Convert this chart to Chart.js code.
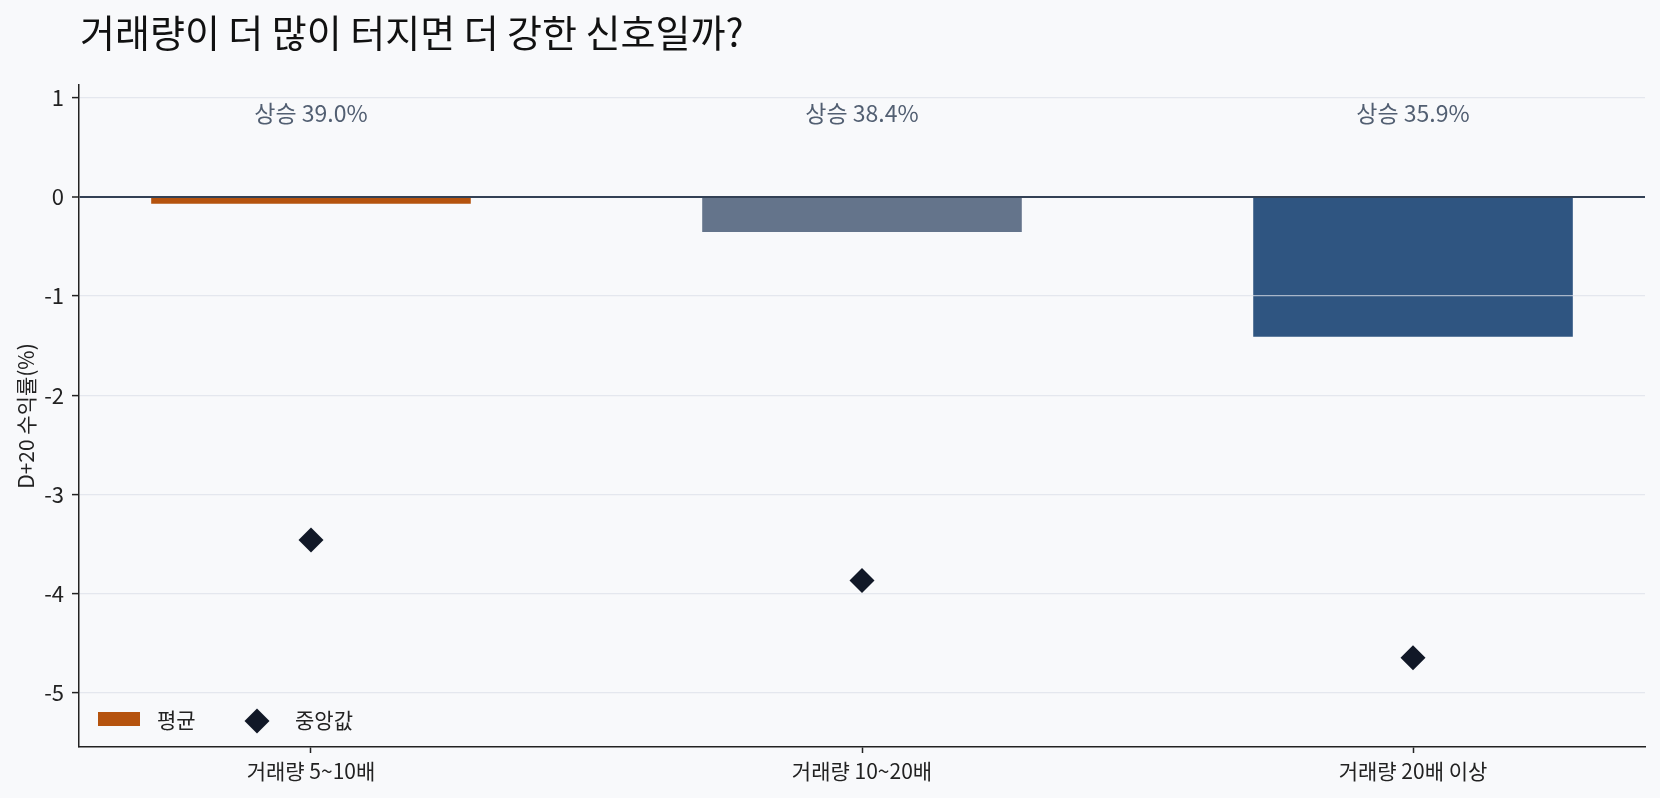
<!DOCTYPE html>
<html>
<head>
<meta charset="utf-8">
<script src="https://cdn.jsdelivr.net/npm/chart.js@4.4.1/dist/chart.umd.min.js"></script>
<style>
html,body{margin:0;padding:0;background:#f8f9fb;}
#wrap{width:1660px;height:798px;position:relative;}
</style>
</head>
<body>
<div id="wrap"><canvas id="c" width="1660" height="798"></canvas></div>
<script>
const chartTitle = '거래량이 더 많이 터지면 더 강한 신호일까?';
const categories = ['거래량 5~10배', '거래량 10~20배', '거래량 20배 이상'];
const meanValues = [-0.068, -0.353, -1.41];
const medianValues = [-3.46, -3.87, -4.65];
const upRatio = [39.0, 38.4, 35.9];
const yTicks = [1, 0, -1, -2, -3, -4, -5];
const seriesLabels = ['평균', '중앙값'];

const FONT = "'Noto Sans CJK KR', 'Noto Sans', sans-serif";
const barColors = ['#b5530e', '#64748b', '#2f5581'];
const medianColor = '#111827';

const overlay = {
  id: 'overlay',
  afterDraw(chart) {
    const ctx = chart.ctx;
    const xs = chart.scales.x, ys = chart.scales.y;
    ctx.save();
    // title
    ctx.fillStyle = '#111111';
    ctx.font = '38px ' + FONT;
    ctx.textAlign = 'left';
    ctx.textBaseline = 'alphabetic';
    ctx.fillText(chartTitle, 80, 47);
    // annotations
    ctx.fillStyle = '#525f72';
    ctx.font = '23px ' + FONT;
    ctx.textAlign = 'center';
    ctx.textBaseline = 'middle';
    upRatio.forEach((r, i) => {
      ctx.fillText('상승 ' + r.toFixed(1) + '%', xs.getPixelForValue(i), ys.getPixelForValue(0.84));
    });
    // legend
    const ds = chart.data.datasets;
    ctx.font = '21px ' + FONT;
    ctx.textAlign = 'left';
    ctx.fillStyle = barColors[0];
    ctx.fillRect(98, 712, 42, 14);
    ctx.fillStyle = '#222222';
    ctx.fillText(ds[0].label, 157, 720);
    ctx.fillStyle = medianColor;
    ctx.beginPath();
    const cx = 257, cy = 721, r = 12.5;
    ctx.moveTo(cx, cy - r); ctx.lineTo(cx + r, cy); ctx.lineTo(cx, cy + r); ctx.lineTo(cx - r, cy); ctx.closePath();
    ctx.fill();
    ctx.fillStyle = '#222222';
    ctx.fillText(ds[1].label, 295, 720);
    ctx.restore();
  }
};

const bgPlugin = {
  id: 'bg',
  beforeDraw(chart) {
    const ctx = chart.ctx;
    ctx.save();
    ctx.fillStyle = '#f8f9fb';
    ctx.fillRect(0, 0, chart.width, chart.height);
    ctx.restore();
  }
};

new Chart(document.getElementById('c'), {
  type: 'bar',
  data: {
    datasets: [
      {
        type: 'bar',
        label: seriesLabels[0],
        data: meanValues.map((v, i) => ({x: i, y: v})),
        backgroundColor: barColors,
        borderWidth: 0,
        barPercentage: 0.58,
        categoryPercentage: 1,
        order: 2
      },
      {
        type: 'scatter',
        label: seriesLabels[1],
        data: medianValues.map((v, i) => ({x: i, y: v})),
        pointStyle: 'rectRot',
        pointRadius: 12.5,
        pointHoverRadius: 12.5,
        backgroundColor: medianColor,
        borderWidth: 0,
        order: 1
      }
    ]
  },
  options: {
    responsive: false,
    animation: false,
    devicePixelRatio: 1,
    layout: {padding: {left: 0, right: 15, top: 85, bottom: 0}},
    plugins: {legend: {display: false}, tooltip: {enabled: false}, title: {display: false}},
    scales: {
      x: {
        type: 'linear',
        offset: false,
        min: -0.421,
        max: 2.421,
        afterBuildTicks: s => { s.ticks = categories.map((c, i) => ({value: i})); },
        afterFit: s => { s.height = 51; },
        ticks: {
          callback: v => categories[v],
          font: {family: FONT, size: 21},
          color: '#222222',
          padding: 5,
          maxRotation: 0,
          autoSkip: false
        },
        grid: {display: true, offset: false, drawOnChartArea: false, drawTicks: true, tickLength: 6, tickColor: '#222222', tickWidth: 1.5},
        border: {display: true, color: '#222222', width: 1.5}
      },
      y: {
        min: -5.55,
        max: 1.13,
        afterBuildTicks: s => { s.ticks = yTicks.map(v => ({value: v})); },
        afterFit: s => { s.width = 79; },
        ticks: {
          font: {family: FONT, size: 22},
          color: '#222222',
          padding: 8
        },
        grid: {
          z: 1,
          color: c => c.tick && c.tick.value === 0 ? '#334155' : 'rgba(220,224,232,0.7)',
          lineWidth: c => c.tick && c.tick.value === 0 ? 2 : 1.2,
          drawTicks: true,
          tickLength: 7,
          tickColor: '#222222',
          tickWidth: 1.5
        },
        border: {display: true, color: '#222222', width: 1.5, z: 1},
        title: {
          display: true,
          text: 'D+20 수익률(%)',
          font: {family: FONT, size: 21},
          color: '#222222',
          padding: {top: 13, bottom: 0}
        }
      }
    }
  },
  plugins: [bgPlugin, overlay]
});
</script>
</body>
</html>
